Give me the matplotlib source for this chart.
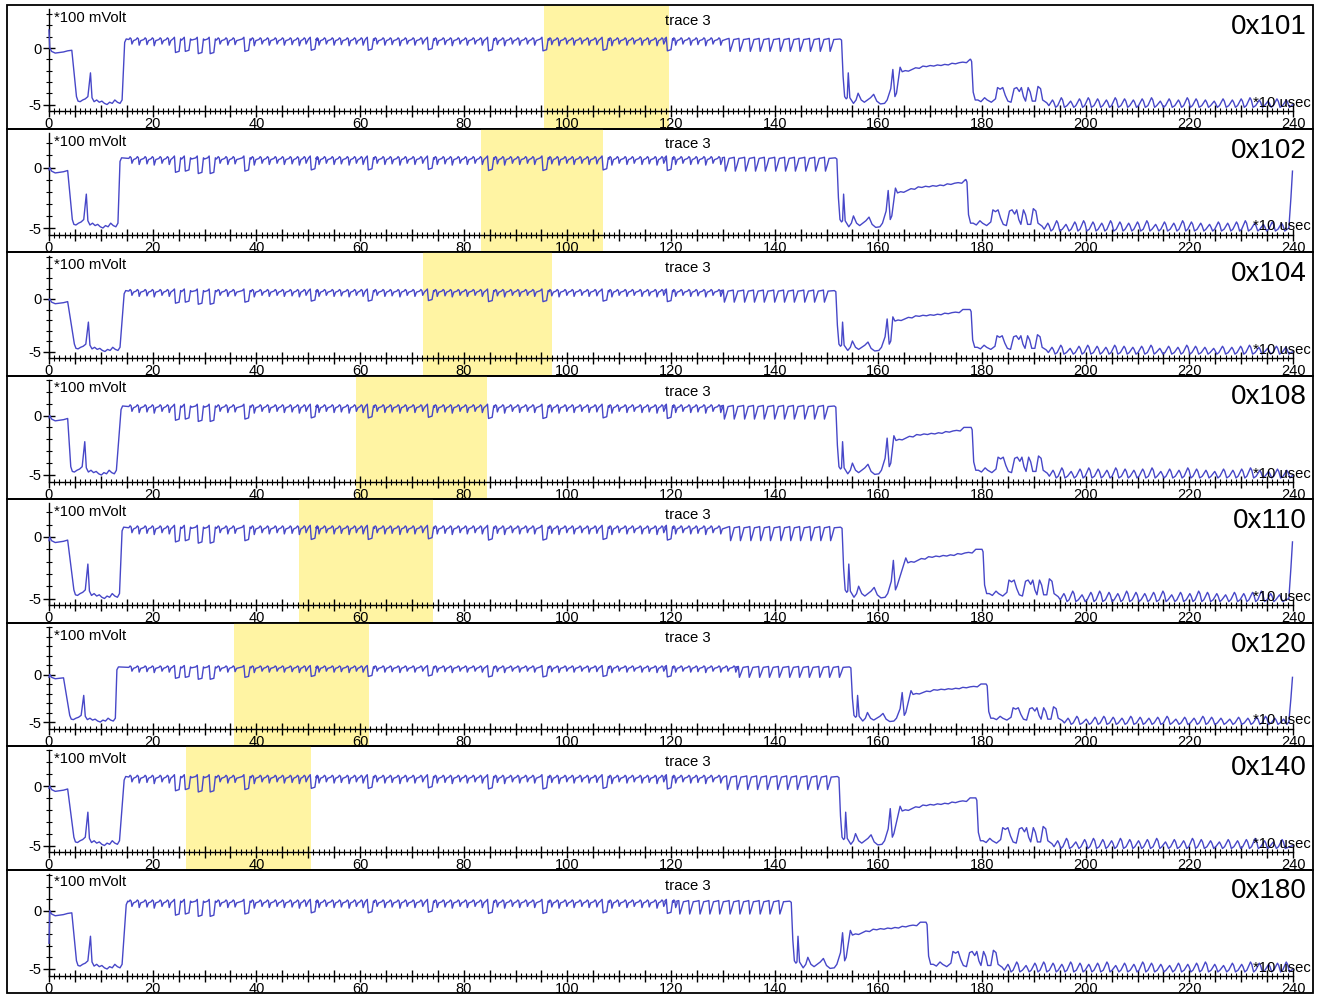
"""
Eight stacked scope traces (trace 3) for different ids, with the highlighted frame window.
"""
import numpy as np
import matplotlib.pyplot as plt
from matplotlib.patches import Rectangle
from matplotlib.ticker import FixedLocator, FuncFormatter

plt.rcParams['font.family'] = ['Liberation Sans', 'DejaVu Sans']

# ---- data (x in *10 usec, y in *100 mVolt) ----
PANEL_NAMES = ["0x101", "0x102", "0x104", "0x108", "0x110", "0x120", "0x140", "0x180"]
HILITE_START = [95.5, 83.4, 72.2, 59.2, 48.2, 35.7, 26.4, np.nan]
HILITE_END = [119.6, 106.9, 97.0, 84.5, 74.1, 61.7, 50.5, np.nan]

# edges of the waveform in every panel
START_Y = [1.6, -0.2, -0.1, -0.2, -0.3, -0.3, -0.2, -2.8]
DROP1 = [5.0, 4.2, 4.6, 3.9, 4.5, 3.7, 4.5, 5.0]
RISE1 = [14.6, 13.7, 14.5, 13.9, 14.1, 13.1, 14.5, 14.9]
FALL2 = [152.9, 152.0, 151.8, 151.8, 153.0, 154.7, 152.4, 143.2]
RISE2 = [164.2, 163.3, 162.8, 163.0, 165.3, 166.3, 164.2, 154.6]
FALL3 = [178.0, 177.1, 177.9, 178.1, 180.2, 181.0, 179.0, 169.4]
END_SPIKE = [np.nan, -0.3, np.nan, np.nan, -0.4, -0.3, np.nan, np.nan]

# idle level before the first drop (absolute x)
PRE_X = [0.15, 0.5, 1.2, 2.0, 2.8, 3.6, 4.4]
PRE_Y = [0.0, -0.3, -0.45, -0.4, -0.35, -0.25, -0.2]

# first low part, x relative to DROP1
LOW1_DX = [0.3, 0.6, 1.0, 1.5, 2.0, 2.5, 3.0, 3.3, 3.7, 4.2, 4.7, 5.2, 5.7, 6.2, 6.7, 7.2, 7.7, 8.2, 8.7, 9.1]
LOW1_Y = [-4.3, -4.7, -4.75, -4.6, -4.5, -4.3, -2.2, -4.4, -4.75, -4.6, -4.8, -4.7, -4.9, -5.0, -4.8, -4.9, -4.6, -4.8, -4.9, -4.6]

# ripple of the long high part
HIGH_LEVEL = 0.7
SMALL_TEETH = [16.0, 17.4, 18.9, 20.3, 21.8, 23.2, 33.0, 34.5, 35.9, 39.6, 41.1, 42.5, 44.0,
               45.4, 46.9, 48.3, 49.6, 52.1, 53.5, 55.0, 56.4, 57.9, 59.3, 60.6, 63.3, 64.8,
               66.2, 67.7, 69.1, 70.6, 72.1, 74.9, 76.4, 77.8, 79.3, 80.7, 82.2, 83.6, 86.5,
               87.9, 89.4, 90.8, 92.3, 93.7, 97.0, 98.4, 99.9, 101.3, 102.8, 104.2, 105.7,
               108.6, 110.0, 111.5, 112.9, 114.4, 115.8, 117.3, 118.6, 120.9, 122.3, 123.8,
               125.2, 126.7, 128.1, 129.6, 131.0, 132.5, 133.9, 135.4]
SMALL_DEPTH = [0.35, 0.45, 0.4, 0.5, 0.35, 0.45]
DEEP_DIPS = [24.7, 26.6, 29.1, 31.4, 38.1, 50.9, 61.9, 73.5, 85.1, 95.6, 107.2, 119.6]
DEEP_DEPTH = [-0.4, -0.3, -0.5, -0.5, -0.3, -0.2, -0.2, -0.15, -0.25, -0.25, -0.2, -0.25]
END_TEETH = [-21.5, -19.6, -17.6, -15.7, -13.8, -11.8, -9.9, -8.0, -6.0, -4.1, -2.2]

# low part after FALL2, x relative to FALL2
LOW2_DX = [0.3, 0.6, 0.9, 1.1, 1.3, 1.6, 2.3, 2.8, 3.2, 3.8, 4.4, 5.0, 5.6, 6.2, 6.8, 7.5,
           8.3, 8.8, 9.5, 9.9, 10.3, 10.6]
LOW2_Y = [-2.5, -4.3, -4.5, -4.4, -2.2, -4.4, -4.9, -4.6, -4.0, -4.6, -4.8, -4.6, -4.4, -4.1,
          -4.7, -4.95, -4.9, -4.6, -3.6, -1.9, -4.3, -4.0]

# middle level, x relative to RISE2
MID_DX = [0.0, 0.4, 1.0, 1.6, 2.3, 3.0, 3.7, 4.4, 5.1, 5.8, 6.5, 7.2, 7.9, 8.6, 9.3, 10.0,
          10.7, 11.4, 12.1, 12.8, 13.5]
MID_Y = [-1.7, -2.1, -2.0, -2.05, -1.9, -1.75, -1.8, -1.6, -1.65, -1.55, -1.6, -1.5, -1.55,
         -1.45, -1.5, -1.35, -1.4, -1.3, -1.25, -1.3, -1.0]

# bumps after FALL3, x relative to FALL3
BUMP_DX = [0.3, 0.7, 1.2, 1.8, 2.5, 3.0, 3.8, 4.6, 5.0, 5.5, 6.0, 6.5, 7.0, 7.6, 8.2, 8.7,
           9.2, 9.6, 10.0, 10.4, 10.9, 11.3, 11.7, 12.3, 12.8, 13.3, 13.7, 14.5]
BUMP_Y = [-3.9, -4.6, -4.6, -4.75, -4.4, -4.6, -4.8, -4.5, -3.5, -3.65, -3.5, -4.2, -4.7,
          -4.8, -3.6, -3.5, -3.85, -3.5, -4.3, -4.7, -3.5, -3.9, -4.7, -4.7, -3.4, -3.6,
          -4.6, -4.85]

# ripple of the tail, x relative to FALL3 + 15
TAIL_PEAKS = [0.6, 2.3, 4.1, 5.8, 7.5, 9.3, 11.0, 12.7, 14.5, 16.2, 17.9, 19.7, 21.4, 23.1,
              24.9, 26.6, 28.3, 30.1, 31.8, 33.5, 35.3, 37.0, 38.7, 40.5, 42.2, 43.9, 45.7,
              47.4, 49.1, 50.9, 52.6, 54.3, 56.1]
TAIL_TOP = [-4.6, -4.4, -4.7, -4.5, -4.4, -4.5, -4.6, -4.4, -4.5, -4.6, -4.5, -4.4, -4.7,
            -4.5, -4.6, -4.4, -4.5, -4.6, -4.7, -4.5, -4.6, -4.5, -4.4, -4.6, -4.7, -4.5,
            -4.6, -4.4, -4.5, -4.6, -4.5, -4.4, -4.6]

# y position of the 0 tick inside each panel (px from panel top), the scale differs a bit
ZERO_PX = [43, 39, 47, 40, 38, 52, 40, 41]


def build_trace(i):
    xs, ys = [0.0], [START_Y[i]]
    d1, r1, f2, r2, f3 = DROP1[i], RISE1[i], FALL2[i], RISE2[i], FALL3[i]

    for x, y in zip(PRE_X, PRE_Y):
        if x < d1 - 0.2:
            xs.append(x); ys.append(y)
    for dx, y in zip(LOW1_DX, LOW1_Y):
        if d1 + dx < r1 - 0.2:
            xs.append(d1 + dx); ys.append(y)
    xs += [r1, r1 + 0.3]; ys += [0.5, HIGH_LEVEL + 0.1]

    # ripple events on the high part
    events = []
    end_zone = f2 - 22.0
    for k, p in enumerate(SMALL_TEETH):
        if r1 + 0.5 < p < end_zone and min(abs(p - q) for q in DEEP_DIPS) > 0.9:
            events.append((p, "small", HIGH_LEVEL - SMALL_DEPTH[k % len(SMALL_DEPTH)]))
    for p, d in zip(DEEP_DIPS, DEEP_DEPTH):
        if r1 + 0.5 < p < end_zone:
            events.append((p, "deep", d))
    for dp in END_TEETH:
        events.append((f2 + dp, "end", -0.3))
    events.sort()
    for p, kind, d in events:
        if kind == "small":
            xs += [p - 0.6, p - 0.35, p - 0.15, p, p + 0.3]
            ys += [HIGH_LEVEL + 0.05, HIGH_LEVEL + 0.2, HIGH_LEVEL + 0.1, d, HIGH_LEVEL - 0.05]
        elif kind == "deep":
            xs += [p - 0.8, p - 0.5, p - 0.3, p + 0.4, p + 0.7, p + 0.9]
            ys += [HIGH_LEVEL + 0.1, HIGH_LEVEL + 0.25, d, d + 0.1, HIGH_LEVEL + 0.1, HIGH_LEVEL]
        else:
            xs += [p - 0.6, p - 0.2, p, p + 0.35, p + 0.7]
            ys += [HIGH_LEVEL + 0.1, HIGH_LEVEL + 0.15, d, 0.2, HIGH_LEVEL + 0.05]
    xs += [f2 - 0.3, f2]; ys += [HIGH_LEVEL + 0.1, HIGH_LEVEL]

    for dx, y in zip(LOW2_DX, LOW2_Y):
        if f2 + dx < r2 - 0.2:
            xs.append(f2 + dx); ys.append(y)
    for dx, y in zip(MID_DX, MID_Y):
        if r2 + dx < f3 - 0.2:
            xs.append(r2 + dx); ys.append(y)
    xs += [f3 - 0.2, f3]; ys += [-1.0, -1.2]
    for dx, y in zip(BUMP_DX, BUMP_Y):
        xs.append(f3 + dx); ys.append(y)

    t0 = f3 + 15.0
    last = 240.0 if np.isnan(END_SPIKE[i]) else 239.2
    for dp, top in zip(TAIL_PEAKS, TAIL_TOP):
        p = t0 + dp
        if p + 0.6 > last:
            break
        xs += [p - 0.7, p, p + 0.25, p + 0.6]
        ys += [-5.1, top, top - 0.2, -5.25]
    xs.append(last); ys.append(-5.0)
    if not np.isnan(END_SPIKE[i]):
        xs += [239.6, 239.9]; ys += [-2.5, END_SPIKE[i]]
    return np.array(xs), np.array(ys)


fig = plt.figure(figsize=(13.24, 9.94), dpi=100)
W, H = 1324.0, 994.0
left_px, right_px = 7.0, 1313.0
panel_h = 123.5
x_scale = (1293.0 - 49.0) / 240.0  # px per unit

for i, name in enumerate(PANEL_NAMES):
    top_px = 5.0 + i * panel_h
    ax = fig.add_axes([left_px / W, 1 - (top_px + panel_h) / H,
                       (right_px - left_px) / W, panel_h / H])
    z = ZERO_PX[i]
    y_scale = (99.5 - z) / 5.0
    ax.set_xlim(-(49.0 - left_px) / x_scale, 240 + (right_px - 1293.0) / x_scale)
    ax.set_ylim(-(panel_h - z) / y_scale, z / y_scale)
    axis_y = -(106.0 - z) / y_scale
    axis_top = (z - 4.0) / y_scale

    if not np.isnan(HILITE_START[i]):
        ax.axvspan(HILITE_START[i], HILITE_END[i], color='#fff4a3', lw=0, zorder=0)

    xs, ys = build_trace(i)
    ax.plot(xs, ys, color='#4747c8', lw=1.0, zorder=3)

    # axes through the origin like the scope software
    for side in ['top', 'right']:
        ax.spines[side].set_visible(False)
    ax.spines['left'].set_position(('data', 0))
    ax.spines['left'].set_bounds(axis_y, axis_top)
    ax.spines['bottom'].set_position(('data', axis_y))
    ax.spines['bottom'].set_bounds(0, 240)
    ax.spines['left'].set_linewidth(1.0)
    ax.spines['bottom'].set_linewidth(1.0)
    ax.patch.set_visible(False)

    ax.xaxis.set_major_locator(FixedLocator(np.arange(0, 241, 5)))
    ax.xaxis.set_minor_locator(FixedLocator(np.arange(0, 241, 1)))
    ax.xaxis.set_major_formatter(FuncFormatter(lambda v, p: f"{v:.0f}" if v % 20 == 0 else ""))
    ax.yaxis.set_major_locator(FixedLocator([-5, 0]))
    ax.yaxis.set_minor_locator(FixedLocator(np.arange(-5, int(axis_top) + 1, 1)))
    ax.yaxis.set_major_formatter(FuncFormatter(lambda v, p: f"{v:.0f}"))
    ax.tick_params(axis='x', which='major', direction='inout', length=8, width=1.0,
                   labelsize=10.5, pad=0.5)
    ax.tick_params(axis='x', which='minor', direction='inout', length=4, width=0.8)
    ax.tick_params(axis='y', which='major', direction='inout', length=9, width=1.0,
                   labelsize=10.5, pad=1)
    ax.tick_params(axis='y', which='minor', direction='inout', length=5, width=0.8)

    ax.text(0.036, 1 - 13 / panel_h, "*100 mVolt", transform=ax.transAxes,
            fontsize=10.7, va='center', ha='left')
    ax.text(0.504, 1 - 16 / panel_h, "trace 3", transform=ax.transAxes,
            fontsize=10.7, va='center', ha='left')
    ax.text(0.9954, 1 - 22 / panel_h, name, transform=ax.transAxes,
            fontsize=20, va='center', ha='right')
    ax.text(0.9985, 1 - 98 / panel_h, "*10 usec", transform=ax.transAxes,
            fontsize=10.6, va='center', ha='right', zorder=4)

    ax.add_patch(Rectangle((0, 0), 1, 1, transform=ax.transAxes, fill=False,
                           edgecolor='black', lw=1.3, clip_on=False, zorder=5))

fig.savefig("out.png", dpi=100)
